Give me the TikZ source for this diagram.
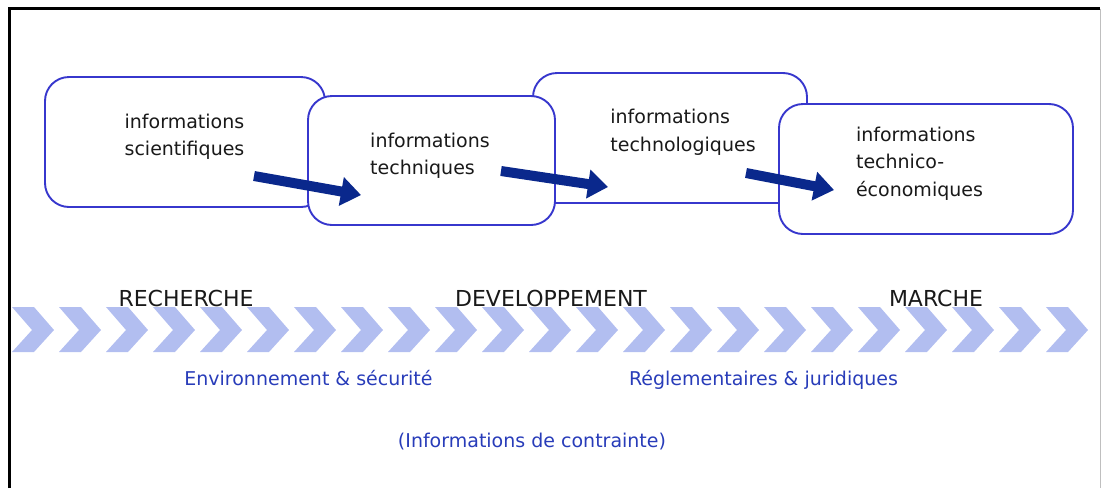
\documentclass[tikz,border=0pt]{standalone}
\usepackage{fontspec}
\setmainfont{DejaVu Sans}
\usetikzlibrary{arrows.meta}
\definecolor{boxblue}{RGB}{55,55,205}
\definecolor{arrowblue}{RGB}{10,40,140}
\definecolor{chev}{RGB}{178,190,240}
\definecolor{txtblue}{RGB}{40,60,185}
\definecolor{txtgray}{RGB}{25,25,25}
\begin{document}
\begin{tikzpicture}[x=1pt,y=-1pt,
  infobox/.style={draw=boxblue, line width=1.9pt, fill=white, rounded corners=24pt,
    rectangle, inner sep=0pt},
  boxtext/.style={align=left, text=txtgray, font=\fontsize{19}{27.5}\selectfont, inner sep=0pt},
  phase/.style={text=txtgray, font=\fontsize{22}{26}\selectfont, inner sep=0pt, anchor=base},
  constraint/.style={text=txtblue, font=\fontsize{19}{23}\selectfont, inner sep=0pt, anchor=base},
  flowarrow/.style={draw=arrowblue, line width=10pt, -{Triangle[length=20pt,width=28pt]}},
  chevron/.style={fill=chev}
]
\useasboundingbox (0,0) rectangle (1102,488);
% frame
\draw[line width=2.6pt] (9.5,488) -- (9.5,8.5) -- (1100,8.5);
\draw[line width=0.8pt, black!25] (1100,8.5) -- (1100,488);
% boxes
\node[infobox, minimum width=280pt, minimum height=130pt] (b1) at (185,142) {};
\node[infobox, minimum width=274pt, minimum height=130pt] (b3) at (670,138) {};
\node[infobox, minimum width=247pt, minimum height=129pt] (b2) at (431.5,160.5) {};
\node[infobox, minimum width=294pt, minimum height=130pt] (b4) at (926,169) {};
% texts
\node[boxtext] (t1) at (184.5,137) {informations\\scientifiques};
\node[boxtext] (t2) at (430,156) {informations\\techniques};
\node[boxtext] (t3) at (683,132.5) {informations\\technologiques};
\node[boxtext] (t4) at (919.5,163.5) {informations\\technico-\\économiques};
% arrows
\coordinate (a1s) at (254,176);
\coordinate (a1e) at (361,195);
\coordinate (a2s) at (501,171);
\coordinate (a2e) at (608,187);
\coordinate (a3s) at (746,173);
\coordinate (a3e) at (834,190);
\draw[flowarrow] (a1s) -- (a1e);
\draw[flowarrow] (a2s) -- (a2e);
\draw[flowarrow] (a3s) -- (a3e);
% chevrons
\foreach \i in {0,...,22}{
  \fill[chevron] ({12+47*\i},307) -- ++(22,0) -- ++(20,23) -- ++(-20,22) -- ++(-22,0) -- ++(20,-22) -- cycle;
}
% phase labels
\node[phase] (p1) at (186,306) {RECHERCHE};
\node[phase] (p2) at (551,306) {DEVELOPPEMENT};
\node[phase] (p3) at (936,306) {MARCHE};
% constraint labels
\node[constraint] (c1) at (308.5,385) {Environnement \& sécurité};
\node[constraint] (c2) at (763.5,385) {Réglementaires \& juridiques};
\node[constraint] (c3) at (532,447) {(Informations de contrainte)};
\end{tikzpicture}
\end{document}
